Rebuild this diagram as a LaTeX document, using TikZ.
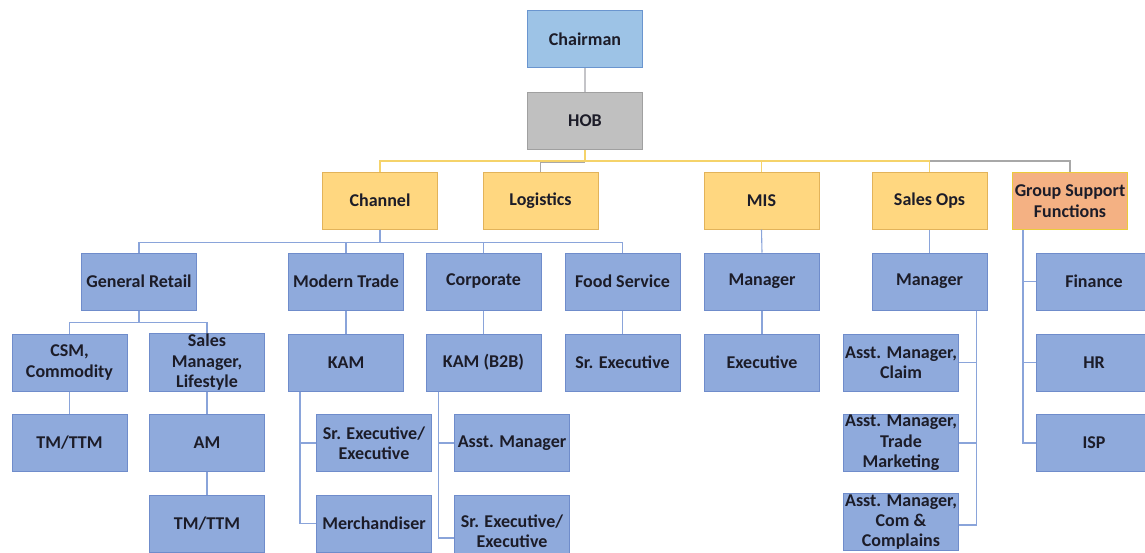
\documentclass[tikz,border=0pt]{standalone}
\usepackage{fontspec}
\setmainfont{Carlito}
\definecolor{bfill}{HTML}{8FAADC}
\definecolor{bline}{HTML}{6F8CCB}
\definecolor{cfill}{HTML}{9DC3E6}
\definecolor{cline}{HTML}{6A95CF}
\definecolor{gfill}{HTML}{C0C0C0}
\definecolor{gline}{HTML}{A0A0A0}
\definecolor{yfill}{HTML}{FFD780}
\definecolor{yline}{HTML}{E2B35A}
\definecolor{ofill}{HTML}{F4B183}
\definecolor{oline}{HTML}{EBCB3A}
\definecolor{conb}{HTML}{8AA4DA}
\definecolor{cony}{HTML}{F5D36A}
\definecolor{cong}{HTML}{A8A8A8}
\definecolor{conlg}{HTML}{C4C4C8}
\definecolor{txt}{HTML}{1C1C28}
\begin{document}
\begin{tikzpicture}[x=1pt,y=-1pt,
  box/.style={draw=bline,fill=bfill,line width=1pt,minimum width=115pt,minimum height=57pt,
    inner sep=1pt,align=center,font=\fontsize{18}{20.5}\selectfont\bfseries,text=txt},
  chairbox/.style={box,draw=cline,fill=cfill},
  hobbox/.style={box,draw=gline,fill=gfill},
  ybox/.style={box,draw=yline,fill=yfill},
  obox/.style={box,draw=oline,fill=ofill},
  conn/.style={draw=conb,line width=1.1pt},
  conny/.style={draw=cony,line width=1.3pt},
  conng/.style={draw=cong,line width=1.1pt},
  connlg/.style={draw=conlg,line width=1.1pt}]
\useasboundingbox (0,0) rectangle (1145,552);
% level 0-1
\node[chairbox] (ch) at (585,39) {Chairman};
\node[hobbox] (hob) at (585,121) {HOB};
% level 2
\node[ybox] (chan) at (380,200.5) {Channel};
\node[ybox] (log) at (540.5,201) {Logistics};
\node[ybox] (mis) at (761.5,200.5) {MIS};
\node[ybox] (sops) at (929.5,200.5) {Sales Ops};
\node[obox] (gsf) at (1070,201) {Group Support\\Functions};
% level 3
\node[box] (gr) at (139,281.5) {General Retail};
\node[box] (mt) at (346,281.5) {Modern Trade};
\node[box] (corp) at (483.5,281.5) {Corporate};
\node[box] (fs) at (622.5,281.5) {Food Service};
\node[box] (mism) at (762,281.5) {Manager};
\node[box] (som) at (929.5,281.5) {Manager};
\node[box] (fin) at (1094,281.5) {Finance};
% level 4
\node[box] (csm) at (69.5,362.5) {CSM,\\Commodity};
\node[box] (sml) at (207,362.5) {Sales\\Manager,\\Lifestyle};
\node[box] (kam) at (346,362.5) {KAM};
\node[box] (kamb) at (483.5,362.5) {KAM (B2B)};
\node[box] (fsse) at (622.5,362.5) {Sr. Executive};
\node[box] (mise) at (762,362.5) {Executive};
\node[box] (amc) at (901,362.5) {Asst. Manager,\\Claim};
\node[box] (hr) at (1094,362.5) {HR};
% level 5
\node[box] (tm1) at (69.5,443) {TM/TTM};
\node[box] (am) at (207,443) {AM};
\node[box] (se1) at (374,443) {Sr. Executive/\\Executive};
\node[box] (asm) at (512,443) {Asst. Manager};
\node[box] (amt) at (901,443) {Asst. Manager,\\Trade\\Marketing};
\node[box] (isp) at (1094,443) {ISP};
% level 6
\node[box] (tm2) at (207,523.5) {TM/TTM};
\node[box] (mer) at (374,523.5) {Merchandiser};
\node[box,minimum height=72pt] (se2) at (512,531) {Sr. Executive/\\Executive};
\node[box,font=\fontsize{18}{20}\selectfont\bfseries] (amcc) at (901,522) {Asst. Manager,\\Com \&\\Complains};
% connectors top
\draw[connlg] (ch.south) -- (hob.north);
\draw[conng] (hob.south) ++(0,12) -| (log.north);
\draw[conng] (hob.south) ++(0,11) -| (gsf.north);
\draw[conny] (hob.south) -- ++(0,11) -| (chan.north);
\draw[conny] (hob.south) -- ++(0,11) -| (mis.north);
\draw[conny] (hob.south) -- ++(0,11) -| (sops.north);
% channel
\foreach \t in {gr,mt,corp,fs} \draw[conn] (chan.south) -- ++(0,13) -| (\t.north);
\foreach \t in {csm,sml} \draw[conn] (gr.south) -- ++(0,12) -| (\t.north);
\draw[conn] (csm.south) -- (tm1.north);
\draw[conn] (sml.south) -- (am.north);
\draw[conn] (am.south) -- (tm2.north);
\draw[conn] (mt.south) -- (kam.north);
\draw[conn] (corp.south) -- (kamb.north);
\draw[conn] (fs.south) -- (fsse.north);
\foreach \t in {se1,mer} \draw[conn] ([xshift=12pt]kam.south west) |- (\t.west);
\draw[conn] ([xshift=13pt]kamb.south west) |- (asm.west);
\draw[conn] ([xshift=13pt]kamb.south west) |- ([yshift=-7pt]se2.west);
% MIS, Sales Ops
\draw[conn] (mis.south) -- (mism.north);
\draw[conn] (mism.south) -- (mise.north);
\draw[conn] (sops.south) -- (som.north);
\foreach \t in {amc,amt} \draw[conn] ([xshift=-11pt]som.south east) |- (\t.east);
\draw[conn] ([xshift=-11pt]som.south east) |- ([yshift=-3pt]amcc.east);
% GSF
\foreach \t in {fin,hr,isp} \draw[conn] ([xshift=11pt]gsf.south west) |- (\t.west);
\end{tikzpicture}
\end{document}
